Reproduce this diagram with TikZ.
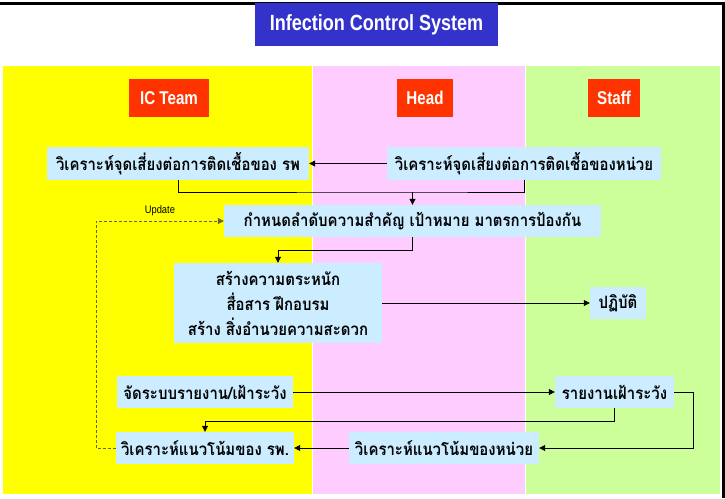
\documentclass[tikz,border=0pt]{standalone}
\usepackage{fontspec}
\setmainfont{Liberation Sans}
\newfontfamily\thaifont[Script=Thai]{Loma}
\usetikzlibrary{arrows.meta}
\definecolor{lanyellow}{HTML}{FFFF00}
\definecolor{lanpink}{HTML}{FFCCFF}
\definecolor{langreen}{HTML}{CCFF99}
\definecolor{titleblue}{HTML}{3333CC}
\definecolor{headred}{HTML}{FF3300}
\definecolor{boxblue}{HTML}{CCECFF}
% narrow the running text horizontally
\newcommand\narrowtxt[1]{\scalebox{0.88}[1]{#1}}
\tikzset{
  titlebox/.style={fill=titleblue, text=white, inner sep=0pt, font=\bfseries\fontsize{22}{26}\selectfont},
  headbox/.style={fill=headred, text=white, inner sep=0pt, font=\bfseries\fontsize{18.5}{22}\selectfont},
  stepbox/.style={fill=boxblue, inner sep=0pt, align=center, font=\thaifont\bfseries\fontsize{17}{25}\selectfont},
  arr/.style={draw=black, line width=0.8pt, -{Triangle[length=6pt,width=6pt]}},
  link/.style={draw=black, line width=0.8pt},
  upd/.style={draw=black!70!yellow, line width=0.8pt, dash pattern=on 3pt off 2pt, -{Triangle[length=6pt,width=6pt]}}
}
\begin{document}
\begin{tikzpicture}[x=1pt, y=-1pt]
\useasboundingbox (0,0) rectangle (725,498);
\fill[white] (0,0) rectangle (725,498);
% frame lines
\fill[black] (0,2) rectangle (724,4.5);
\fill[black] (722,2) rectangle (724.5,498);
% swim lanes
\fill[lanyellow] (3,66) rectangle (311.5,494);
\fill[lanpink] (312.5,66) rectangle (525,494);
\fill[langreen] (526,66) rectangle (720,494);
% title
\node[titlebox, minimum width=243pt, minimum height=43pt] (title) at (376.5,24.5) {\scalebox{0.82}[1]{Infection Control System}};
% lane headers
\node[headbox, minimum width=80pt, minimum height=38pt] (ic) at (169,98) {\scalebox{0.82}[1]{IC Team}};
\node[headbox, minimum width=56pt, minimum height=38pt] (head) at (425,98) {\scalebox{0.82}[1]{Head}};
\node[headbox, minimum width=52pt, minimum height=38pt] (staff) at (614,98) {\scalebox{0.82}[1]{Staff}};
% process steps
\node[stepbox, minimum width=262pt, minimum height=33pt] (a) at (178,163.5) {\narrowtxt{วิเคราะห์จุดเสี่ยงต่อการติดเชื้อของ รพ}};
\node[stepbox, minimum width=274pt, minimum height=33pt] (b) at (524,163.5) {\narrowtxt{วิเคราะห์จุดเสี่ยงต่อการติดเชื้อของหน่วย}};
\node[stepbox, minimum width=377pt, minimum height=32pt] (c) at (412.5,221) {\narrowtxt{กำหนดลำดับความสำคัญ เป้าหมาย มาตรการป้องกัน}};
\node[stepbox, minimum width=208pt, minimum height=80pt] (d) at (278,303) {\narrowtxt{สร้างความตระหนัก}\\\narrowtxt{สื่อสาร ฝึกอบรม}\\\narrowtxt{สร้าง สิ่งอำนวยความสะดวก}};
\node[stepbox, minimum width=56pt, minimum height=32pt] (e) at (618,303) {\narrowtxt{ปฏิบัติ}};
\node[stepbox, minimum width=176pt, minimum height=32pt] (g) at (205,392) {\narrowtxt{จัดระบบรายงาน/เฝ้าระวัง}};
\node[stepbox, minimum width=119pt, minimum height=32pt] (h) at (614.5,392) {\narrowtxt{รายงานเฝ้าระวัง}};
\node[stepbox, minimum width=190pt, minimum height=32pt] (i) at (444,448) {\narrowtxt{วิเคราะห์แนวโน้มของหน่วย}};
\node[stepbox, minimum width=178pt, minimum height=32pt] (f) at (205,448) {\narrowtxt{วิเคราะห์แนวโน้มของ รพ.}};
% junction points
\coordinate (m1) at (412.5,192);
\coordinate (m2) at (278,250);
\coordinate (m3) at (205,421);
\coordinate (m4) at (693,448);
\coordinate (m5) at (96,221);
% connectors
\draw[arr] (b.west) -- (a.east);
\draw[link] (a.south) |- (m1) -| (b.south);
\draw[arr] (m1) -- (c.north);
\draw[arr] (c.south) |- (m2) -- (d.north);
\draw[arr] (d.east) -- (e.west);
\draw[arr] (g.east) -- (h.west);
\draw[arr] (h.south) |- (m3) -- (f.north);
\draw[arr] (h.east) -| (m4) -- (i.east);
\draw[arr] (i.west) -- (f.east);
\draw[upd] (f.west) -| (m5) -- node[above=1pt, font=\fontsize{11}{12}\selectfont, text=black] (updlbl) {\scalebox{0.85}[1]{Update}} (c.west);
\end{tikzpicture}
\end{document}
